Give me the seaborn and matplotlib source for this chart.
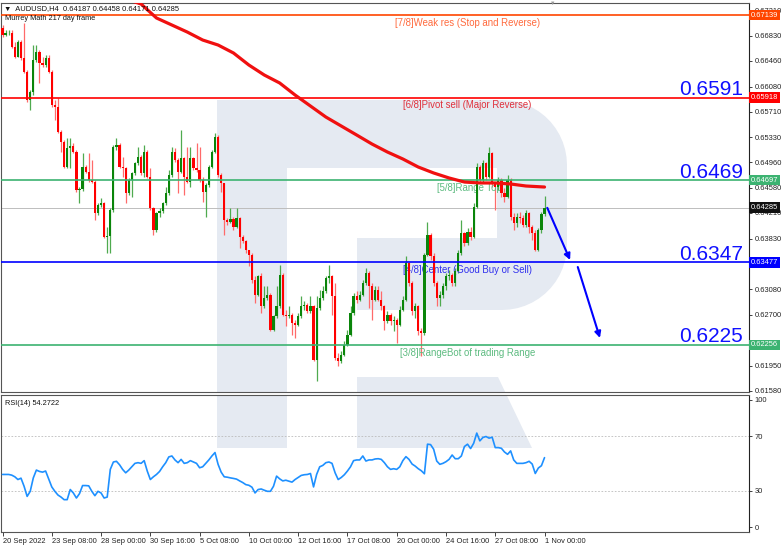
import numpy as np
import pandas as pd
import matplotlib
matplotlib.use("Agg")
import matplotlib.pyplot as plt
import matplotlib.transforms as mtransforms
from matplotlib.patches import Polygon
import seaborn as sns

# %%
# AUDUSD H4 candles, bar 0 = first bar on screen
first_open = 0.66942
close = [0.66843, 0.66868, 0.66878, 0.66671, 0.66523, 0.66745, 0.66498, 0.66301, 0.65882, 0.66005,
         0.66473, 0.66597, 0.66424, 0.66399, 0.66498, 0.66301, 0.65808, 0.65773, 0.65413, 0.65266,
         0.64896, 0.65167, 0.65201, 0.65118, 0.64551, 0.64561, 0.64896, 0.64822, 0.64699, 0.64674,
         0.64206, 0.64329, 0.64353, 0.63860, 0.63870, 0.64255, 0.65192, 0.65216, 0.64896, 0.64871,
         0.64501, 0.64699, 0.64797, 0.64945, 0.65043, 0.64797, 0.65118, 0.64748, 0.64280, 0.63959,
         0.64206, 0.64245, 0.64353, 0.64501, 0.64773, 0.65118, 0.64994, 0.64822, 0.65019, 0.64748,
         0.64674, 0.65019, 0.64871, 0.64846, 0.64699, 0.64526, 0.64625, 0.64896, 0.65118, 0.65339,
         0.64773, 0.64650, 0.64107, 0.64082, 0.64117, 0.64008, 0.64132, 0.63860, 0.63787, 0.63663,
         0.63590, 0.63220, 0.62998, 0.63269, 0.62825, 0.62949, 0.62998, 0.62480, 0.62677, 0.62825,
         0.63294, 0.62702, 0.62677, 0.62702, 0.62579, 0.62554, 0.62677, 0.62825, 0.62850, 0.62751,
         0.62825, 0.62036, 0.62801, 0.62949, 0.63047, 0.63244, 0.63269, 0.62973, 0.62060, 0.62012,
         0.62110, 0.62258, 0.62406, 0.62727, 0.62973, 0.62924, 0.62998, 0.63170, 0.63318, 0.63121,
         0.62924, 0.63072, 0.62924, 0.62825, 0.62603, 0.62702, 0.62603, 0.62628, 0.62554, 0.62776,
         0.62924, 0.63466, 0.63170, 0.62751, 0.62825, 0.62455, 0.62431, 0.63590, 0.63885, 0.63565,
         0.63170, 0.62949, 0.62998, 0.63121, 0.63269, 0.63294, 0.63170, 0.63343, 0.63614, 0.63910,
         0.63762, 0.63934, 0.63860, 0.64304, 0.64896, 0.64699, 0.64945, 0.64748, 0.65093, 0.64650,
         0.64600, 0.64699, 0.64501, 0.64452, 0.64699, 0.64156, 0.64058, 0.64156, 0.64132, 0.64033,
         0.64206, 0.64008, 0.63910, 0.63663, 0.63959, 0.64187, 0.64285]
high = [0.66991, 0.66917, 0.66917, 0.66917, 0.66745, 0.66769, 0.66769, 0.67016, 0.66326, 0.66030,
        0.66695, 0.66695, 0.66621, 0.66523, 0.66547, 0.66547, 0.66326, 0.65882, 0.65906, 0.65438,
        0.65290, 0.65315, 0.65315, 0.65241, 0.65142, 0.64600, 0.65093, 0.64920, 0.65093, 0.64994,
        0.64699, 0.64353, 0.64427, 0.64378, 0.64008, 0.64280, 0.65216, 0.65315, 0.65241, 0.65043,
        0.64896, 0.64723, 0.64822, 0.64970, 0.65192, 0.65068, 0.65216, 0.65142, 0.64871, 0.64304,
        0.64230, 0.64280, 0.64378, 0.64600, 0.64846, 0.65192, 0.65167, 0.65019, 0.65438, 0.65043,
        0.65192, 0.65192, 0.65043, 0.65241, 0.65192, 0.64748, 0.64650, 0.64920, 0.65142, 0.65389,
        0.65364, 0.64797, 0.64650, 0.64132, 0.64280, 0.64156, 0.64280, 0.64156, 0.63885, 0.63811,
        0.63663, 0.63614, 0.63269, 0.63294, 0.63318, 0.63121, 0.63121, 0.63022, 0.62702, 0.63121,
        0.63441, 0.63318, 0.62776, 0.62825, 0.62727, 0.62628, 0.62727, 0.62973, 0.62899, 0.62875,
        0.62973, 0.62850, 0.62973, 0.63072, 0.63121, 0.63269, 0.63441, 0.63294, 0.63170, 0.62135,
        0.62160, 0.62307, 0.62480, 0.62825, 0.63022, 0.63047, 0.63047, 0.63220, 0.63392, 0.63343,
        0.63170, 0.63121, 0.63121, 0.63047, 0.62850, 0.62751, 0.62727, 0.62677, 0.62653, 0.62825,
        0.62973, 0.63565, 0.63490, 0.63195, 0.62875, 0.62850, 0.62505, 0.63614, 0.64082, 0.63910,
        0.63614, 0.63195, 0.63047, 0.63170, 0.63318, 0.63367, 0.63318, 0.63392, 0.63663, 0.64107,
        0.63934, 0.63984, 0.64008, 0.64353, 0.64945, 0.64920, 0.64994, 0.64970, 0.65192, 0.65118,
        0.64674, 0.64748, 0.64723, 0.64575, 0.64773, 0.64723, 0.64206, 0.64206, 0.64230, 0.64181,
        0.64255, 0.64230, 0.64033, 0.63959, 0.63984, 0.64230, 0.64458]
low = [0.66819, 0.66828, 0.66843, 0.66646, 0.66498, 0.66513, 0.66473, 0.66276, 0.65857, 0.65734,
       0.65956, 0.66449, 0.66128, 0.66375, 0.66375, 0.66276, 0.65783, 0.65586, 0.65389, 0.65118,
       0.64871, 0.64871, 0.64871, 0.65093, 0.64526, 0.64353, 0.64541, 0.64797, 0.64674, 0.64650,
       0.64107, 0.64181, 0.64304, 0.63836, 0.63614, 0.63614, 0.64230, 0.65142, 0.64871, 0.64748,
       0.64353, 0.64477, 0.64452, 0.64773, 0.64920, 0.64773, 0.64748, 0.64723, 0.64255, 0.63885,
       0.63934, 0.64156, 0.64206, 0.64329, 0.64477, 0.64748, 0.64970, 0.64501, 0.64797, 0.64477,
       0.64650, 0.64600, 0.64846, 0.64822, 0.64674, 0.64378, 0.64156, 0.64600, 0.64871, 0.65093,
       0.64748, 0.64526, 0.63885, 0.64033, 0.64058, 0.63959, 0.63984, 0.63688, 0.63762, 0.63614,
       0.63417, 0.63170, 0.62875, 0.62973, 0.62727, 0.62801, 0.62924, 0.62455, 0.62455, 0.62653,
       0.62801, 0.62677, 0.62529, 0.62653, 0.62406, 0.62357, 0.62529, 0.62653, 0.62776, 0.62727,
       0.62727, 0.62012, 0.61716, 0.62776, 0.62924, 0.63022, 0.63170, 0.62702, 0.62036, 0.61938,
       0.61987, 0.62086, 0.62234, 0.62381, 0.62702, 0.62875, 0.62899, 0.62973, 0.63146, 0.62801,
       0.62628, 0.62899, 0.62899, 0.62776, 0.62480, 0.62579, 0.62554, 0.62455, 0.62283, 0.62529,
       0.62751, 0.62899, 0.63121, 0.62702, 0.62653, 0.62406, 0.62086, 0.62406, 0.63565, 0.63515,
       0.63121, 0.62825, 0.62825, 0.62949, 0.63072, 0.63220, 0.63121, 0.63121, 0.63318, 0.63590,
       0.63713, 0.63737, 0.63811, 0.63836, 0.64280, 0.64650, 0.64674, 0.64699, 0.64723, 0.64600,
       0.64255, 0.64551, 0.64452, 0.64378, 0.64427, 0.64107, 0.63959, 0.64008, 0.64058, 0.64008,
       0.64008, 0.63910, 0.63811, 0.63639, 0.63639, 0.63910, 0.64171]

# Moving average 217 (sampled along the curve)
ma_bar = [40, 45, 50, 55, 60, 65, 70, 75, 80, 85, 90, 95, 100, 105,
          110, 115, 120, 125, 130, 135, 140, 145, 150, 155, 160, 165, 170, 176]
ma_217 = [0.67376, 0.67302, 0.67095, 0.66991, 0.66887, 0.66769, 0.66695, 0.66577, 0.66399, 0.66251,
          0.66133, 0.65955, 0.65792, 0.65629, 0.65496, 0.65363, 0.65229, 0.65111, 0.65008, 0.64889,
          0.64801, 0.64727, 0.64667, 0.64653, 0.64653, 0.64638, 0.64608, 0.64593]

# RSI(14), one value per bar
rsi_14 = [42.0, 42.0, 42.0, 41.5, 40.3, 38.3, 39.3, 33.4, 26.0, 29.7,
          39.5, 45.2, 44.2, 43.7, 44.5, 38.8, 32.9, 29.7, 27.0, 25.5,
          23.6, 23.6, 31.0, 28.5, 24.8, 28.0, 33.9, 33.9, 33.7, 29.7,
          26.5, 29.7, 28.5, 24.8, 25.5, 45.7, 51.1, 51.6, 49.1, 45.7,
          43.2, 45.2, 47.6, 50.1, 50.6, 50.1, 52.1, 44.5, 38.3, 40.3,
          42.0, 44.2, 47.6, 50.6, 54.8, 55.5, 52.6, 50.6, 53.0, 50.1,
          50.6, 52.1, 51.1, 50.1, 46.9, 47.6, 50.1, 52.6, 55.5, 58.0,
          49.4, 43.7, 40.3, 40.0, 39.5, 39.1, 38.6, 37.3, 36.1, 34.6,
          34.1, 32.7, 28.5, 31.0, 31.4, 30.5, 29.7, 29.7, 33.4, 40.8,
          38.8, 37.3, 37.8, 37.1, 36.4, 38.3, 39.8, 41.3, 41.8, 42.0,
          42.7, 32.9, 42.0, 47.6, 48.6, 50.6, 51.1, 50.1, 43.2, 38.3,
          39.8, 41.8, 44.5, 47.6, 52.1, 52.6, 52.6, 55.5, 51.8, 52.6,
          52.6, 53.3, 53.5, 53.0, 50.6, 47.6, 45.7, 46.2, 45.7, 47.6,
          52.1, 55.0, 53.0, 49.6, 48.1, 46.2, 44.7, 42.5, 64.1, 63.8,
          60.4, 51.8, 49.4, 50.1, 51.3, 53.0, 56.2, 53.5, 53.5, 55.5,
          62.4, 64.1, 60.9, 64.8, 72.2, 66.5, 69.0, 69.7, 68.5, 69.2,
          61.6, 61.6, 61.1, 58.4, 56.7, 59.2, 52.6, 50.1, 50.1, 50.1,
          50.6, 51.6, 49.6, 42.7, 46.7, 48.4, 54.27]
rsi_last = "54.2722"

# Murrey Math levels
level_price = [0.67139, 0.65918, 0.64697, 0.63477, 0.62256]
level_name = ["[7/8]Weak res (Stop and Reverse)", "[6/8]Pivot sell (Major Reverse)",
              "[5/8]Range Top", "[4/8]Center (Good Buy or Sell)",
              "[3/8]RangeBot of trading Range"]
level_name_bar = [127.4, 130.0, 141.0, 130.0, 129.0]
target_text = ["0.6591", "0.6469", "0.6347", "0.6225"]
target_price = [0.65918, 0.64697, 0.63477, 0.62256]

quote = "0.64187 0.64458 0.64171 0.64285"
last_price = 0.64285
price_ticks = [0.67210, 0.66830, 0.66460, 0.66080, 0.65710, 0.65330, 0.64960, 0.64580,
               0.64210, 0.63830, 0.63450, 0.63080, 0.62700, 0.62330, 0.61950, 0.61580]
# these two labels sit under the level boxes on the original
hidden_ticks = [0.63450, 0.62330]
date_bar = [0, 16, 32, 48, 64, 80, 96, 112, 128, 144, 160, 176]
date_text = ["20 Sep 2022", "23 Sep 08:00", "28 Sep 00:00", "30 Sep 16:00", "5 Oct 08:00",
             "10 Oct 00:00", "12 Oct 16:00", "17 Oct 08:00", "20 Oct 00:00", "24 Oct 16:00",
             "27 Oct 08:00", "1 Nov 00:00"]

# forecast arrows (bar, price)
arrow_start = [(176.9, 0.64285), (186.8, 0.63409)]
arrow_end = [(184.3, 0.63513), (194.0, 0.62359)]

# %%
sns.set_style("white")
plt.rcParams["font.family"] = ["Liberation Sans", "DejaVu Sans"]

W, H = 782, 547
fig = plt.figure(figsize=(W / 100, H / 100), dpi=100)
ax = fig.add_axes([1 / W, 1 - 392 / H, 748 / W, 389 / H])
ax2 = fig.add_axes([1 / W, 1 - 532 / H, 748 / W, 137 / H])

red, green, blue = "#FF0000", "#3CB371", "#0000FF"
level_color = ["#FF4500", red, green, blue, green]
text_color = ["#FF6A3D", "#E0303C", "#5DBB80", "#3030EE", "#5DBB80"]
wm = "#E5EAF2"

# watermark logo, drawn in pixel coordinates (y down)
px = mtransforms.Affine2D().scale(1 / W, -1 / H).translate(0, 1) + fig.transFigure


def logo_parts():
    r = 65
    a = np.linspace(0, np.pi / 2, 14)
    bowl = [(287, 100)]
    bowl += list(zip(502 + r * np.sin(a), 165 - r * np.cos(a)))
    bowl += list(zip(502 + r * np.cos(a), 245 + r * np.sin(a)))
    bowl += [(357, 310), (357, 238), (497, 238), (497, 168), (287, 168)]
    stem = [(217, 100), (287, 100), (287, 448), (217, 448)]
    leg = [(357, 377), (498, 377), (532, 448), (357, 448)]
    return [stem, bowl, leg]


for a_ in (ax, ax2):
    for pts in logo_parts():
        a_.add_patch(Polygon(pts, closed=True, transform=px, fc=wm, ec="none", zorder=0.5))

# candles
df = pd.DataFrame({"bar": np.arange(len(close)), "open": [first_open] + close[:-1],
                   "high": high, "low": low, "close": close})
df["up"] = df["close"] >= df["open"]
df["bottom"] = df[["open", "close"]].min(axis=1)
df["body"] = (df["close"] - df["open"]).abs().clip(lower=0.00008)

for up, body_col, wick_col in [(True, "#0A850A", "#4FAA4F"), (False, red, "#FF6A6A")]:
    d = df[df["up"] == up]
    ax.vlines(d["bar"], d["low"], d["high"], color=wick_col, lw=0.9, zorder=3)
    ax.bar(d["bar"], d["body"], bottom=d["bottom"], width=0.72, color=body_col,
           linewidth=0, zorder=4)

# MA 217
sns.lineplot(x=ma_bar, y=ma_217, ax=ax, color="#F01010", lw=2.3, zorder=6)

# levels
ax.axhline(last_price, color="#BDBDBD", lw=0.7, zorder=2)
for p, c, tc, name, xb in zip(level_price, level_color, text_color, level_name, level_name_bar):
    ax.axhline(p, color=c, lw=1.2, zorder=5)
    ax.annotate(name, xy=(xb, p), xytext=(0, -2), textcoords="offset points",
                ha="left", va="top", fontsize=6.9, color=tc, zorder=3.5)

for t, p in zip(target_text, target_price):
    ax.annotate(t, xy=(1, p), xycoords=("axes fraction", "data"), xytext=(-4.5, 1.8),
                textcoords="offset points", ha="right", va="baseline",
                fontsize=15, color="#1010FF", zorder=8)

# forecast arrows
for s, e in zip(arrow_start, arrow_end):
    ax.annotate("", xy=e, xytext=s,
                arrowprops=dict(arrowstyle="-|>", color=blue, lw=1.5,
                                mutation_scale=9, shrinkA=0, shrinkB=0), zorder=7)

# price axis
ax.set_xlim(-0.49, 242.4)
ax.set_ylim(0.61559, 0.67317)
ax.yaxis.tick_right()
ax.set_yticks(price_ticks,
              labels=["" if v in hidden_ticks else f"{v:.5f}" for v in price_ticks])
ax.tick_params(axis="y", labelsize=5.4, length=2.5, width=0.6, pad=1.5, colors="#222222")
ax.tick_params(axis="x", bottom=False, labelbottom=False)
ax.set_xlabel("")
ax.set_ylabel("")

box_price = level_price[:3] + [last_price] + level_price[3:]
box_color = level_color[:3] + ["#111111"] + level_color[3:]
for p, c in zip(box_price, box_color):
    ax.annotate(f"{p:.5f}", xy=(1, p), xycoords=("axes fraction", "data"), xytext=(1.4, 0),
                textcoords="offset points", ha="left", va="center", fontsize=5.4,
                color="white", annotation_clip=False, zorder=9,
                bbox=dict(boxstyle="square,pad=0.25", fc=c, ec="none"))

ax.text(0.004, 0.987, "\u25bc  AUDUSD,H4  " + quote, transform=ax.transAxes,
        ha="left", va="center", fontsize=5.4, color="#111111", zorder=9)
ax.text(0.005, 0.959, "Murrey Math 217 day frame", transform=ax.transAxes,
        ha="left", va="center", fontsize=5.3, color="#111111", zorder=9)
ax.text(0.737, 1.0, "\u25bc", transform=ax.transAxes, ha="center", va="center",
        fontsize=4, color="#999999", zorder=9)

# RSI panel
sns.lineplot(x=np.arange(len(rsi_14)), y=rsi_14, ax=ax2, color="#1E90FF", lw=1.2, zorder=4)
for lvl in (70, 30):
    ax2.axhline(lvl, color="#BBBBBB", lw=0.6, ls=(0, (2, 2)), zorder=2)
ax2.set_xlim(-0.49, 242.4)
ax2.set_ylim(0, 100)
ax2.yaxis.tick_right()
ax2.set_yticks([96.5, 70, 30, 3.5], labels=["100", "70", "30", "0"])
ax2.set_xticks(date_bar, labels=date_text)
for lab in ax2.get_xticklabels():
    lab.set_ha("left")
ax2.tick_params(axis="y", labelsize=5.4, length=2.5, width=0.6, pad=1.5, colors="#222222")
ax2.tick_params(axis="x", labelsize=5.4, length=3, width=0.6, pad=1.0, colors="#222222",
                bottom=True, direction="out")
ax2.set_xlabel("")
ax2.set_ylabel("")
ax2.text(0.005, 0.965, f"RSI(14) {rsi_last}", transform=ax2.transAxes, ha="left", va="top",
         fontsize=5.3, color="#111111")

for a_ in (ax, ax2):
    for sp in a_.spines.values():
        sp.set_color("#555555")
        sp.set_linewidth(0.8)
    a_.spines["right"].set_color("#222222")

fig.savefig("out.png", dpi=100)
